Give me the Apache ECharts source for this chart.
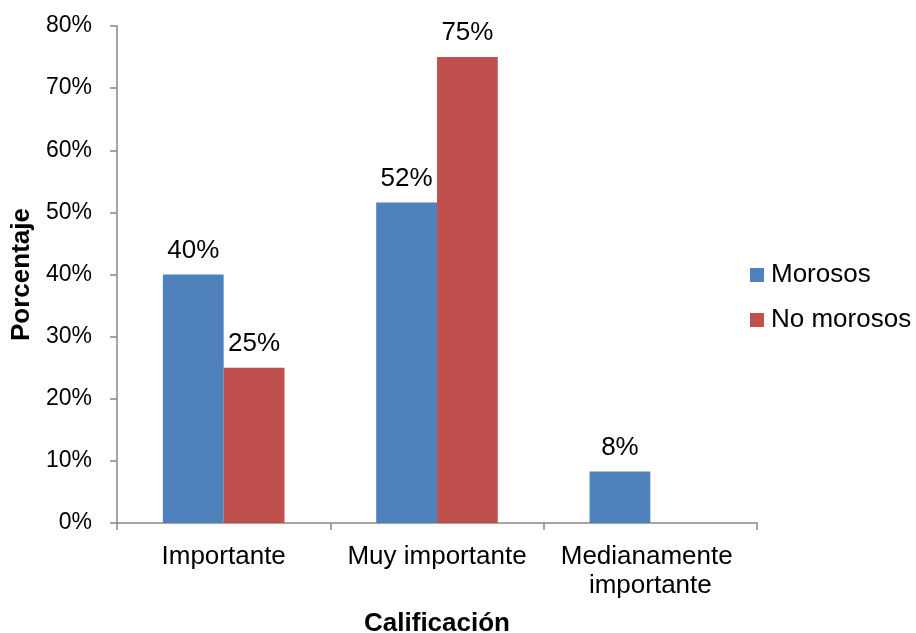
<!DOCTYPE html>
<html>
<head>
<meta charset="utf-8">
<script src="https://cdn.jsdelivr.net/npm/echarts@6/dist/echarts.min.js"></script>
<style>
  html, body { margin: 0; padding: 0; background: #ffffff; }
  #chart { width: 916px; height: 633px; }
</style>
</head>
<body>
<div id="chart"></div>
<script>
// Categories and series values (shares, 0..1)
const categories = ['Importante', 'Muy importante', 'Medianamente importante'];
const morosos = [0.40, 0.516, 0.083];
const noMorosos = [0.25, 0.75, null];
const seriesNames = ['Morosos', 'No morosos'];
const yTicks = { min: 0, max: 0.8, step: 0.1 };

const FONT = '"Liberation Sans", Arial, sans-serif';
const AXIS_GREY = '#868686';
const pct = v => Math.round(v * 100) + '%';

const chart = echarts.init(document.getElementById('chart'), null, { renderer: 'canvas' });

const labelStyle = {
  show: true,
  position: 'top',
  distance: 11,
  color: '#000',
  fontFamily: FONT,
  fontSize: 26,
  formatter: p => (p.value == null ? '' : pct(p.value))
};

chart.setOption({
  animation: false,
  backgroundColor: '#ffffff',
  textStyle: { fontFamily: FONT },
  grid: {
    left: 117, right: 159, top: 26, bottom: 110,
    containLabel: false,
    outerBoundsMode: 'none'
  },
  legend: {
    orient: 'vertical',
    left: 750,
    top: 262,
    padding: 0,
    itemWidth: 14,
    itemHeight: 14,
    itemGap: 19,
    icon: 'rect',
    textStyle: { fontFamily: FONT, fontSize: 26, color: '#000', padding: [0, 0, 0, 2] },
    data: seriesNames
  },
  xAxis: {
    type: 'category',
    data: categories,
    name: 'Calificación',
    nameLocation: 'middle',
    nameGap: 88,
    nameTextStyle: { fontFamily: FONT, fontSize: 26, fontWeight: 'bold', color: '#000' },
    axisLine: { lineStyle: { color: AXIS_GREY, width: 1.5 } },
    axisTick: { show: true, length: 7, lineStyle: { color: AXIS_GREY, width: 1.5 } },
    axisLabel: {
      color: '#000',
      fontFamily: FONT,
      fontSize: 26,
      lineHeight: 29,
      margin: 19,
      width: 205,
      overflow: 'break',
      interval: 0
    }
  },
  yAxis: {
    type: 'value',
    min: yTicks.min,
    max: yTicks.max,
    interval: yTicks.step,
    name: 'Porcentaje',
    nameLocation: 'middle',
    nameGap: 82,
    nameRotate: 90,
    nameTextStyle: { fontFamily: FONT, fontSize: 26, fontWeight: 'bold', color: '#000' },
    splitLine: { show: false },
    axisLine: { show: true, lineStyle: { color: AXIS_GREY, width: 1.5 } },
    axisTick: { show: true, length: 7, lineStyle: { color: AXIS_GREY, width: 1.5 } },
    axisLabel: {
      color: '#000',
      fontFamily: FONT,
      fontSize: 23,
      margin: 25,
      formatter: v => pct(v)
    }
  },
  series: [
    {
      name: seriesNames[0],
      type: 'bar',
      data: morosos,
      barGap: '0%',
      barCategoryGap: '43%',
      itemStyle: { color: '#4F81BD' },
      label: labelStyle
    },
    {
      name: seriesNames[1],
      type: 'bar',
      data: noMorosos,
      barGap: '0%',
      barCategoryGap: '43%',
      itemStyle: { color: '#C0504D' },
      label: labelStyle
    }
  ]
});
</script>
</body>
</html>
